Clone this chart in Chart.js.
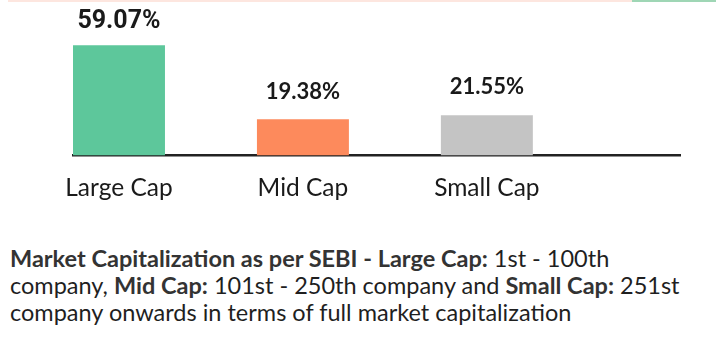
<!DOCTYPE html>
<html>
<head>
<meta charset="utf-8">
<script src="https://cdn.jsdelivr.net/npm/chart.js@4/dist/chart.umd.min.js"></script>
<style>
  html, body { margin: 0; padding: 0; background: #fff; }
  body { width: 716px; height: 342px; position: relative; overflow: hidden; }
  #wrap { position: absolute; left: 0; top: 0; width: 716px; height: 234px; }
  .stripe { position: absolute; top: 0; height: 2px; }
  #caption { position: absolute; left: 10px; top: 245px; width: 706px; white-space: nowrap;
    font-family: Lato, "Open Sans", sans-serif; font-size: 23.5px; line-height: 27px; color: #1f1f1f; }
  #caption b { font-weight: 700; color: #333; }
</style>
</head>
<body>
<div class="stripe" style="left:8px;width:624px;background:#fde6df;"></div>
<div class="stripe" style="left:632px;width:84px;background:#9fd6b5;"></div>
<div id="wrap"><canvas id="c" width="716" height="234"></canvas></div>
<div id="caption"><b>Market Capitalization as per SEBI - Large Cap:</b> 1st - 100th<br>company, <b>Mid Cap:</b> 101st - 250th company and <b>Small Cap:</b> 251st<br>company onwards in terms of full market capitalization</div>
<script>
const categories = ['Large Cap', 'Mid Cap', 'Small Cap'];
const shares = [59.07, 19.38, 21.55];
const valueLabels = ['59.07%', '19.38%', '21.55%'];
const barColors = ['#5dc79b', '#fd8a5c', '#c4c4c4'];
const labelFonts = ['bold 25px Roboto', 'bold 22px Lato', 'bold 22px Lato'];
const labelGaps = [17, 20, 21];

const valueLabelPlugin = {
  id: 'valueLabels',
  afterDatasetsDraw(chart) {
    const ctx = chart.ctx;
    const meta = chart.getDatasetMeta(0);
    ctx.save();
    ctx.fillStyle = '#1a1a1a';
    ctx.textAlign = 'center';
    ctx.textBaseline = 'alphabetic';
    meta.data.forEach((bar, i) => {
      ctx.font = labelFonts[i];
      ctx.fillText(valueLabels[i], bar.x, bar.y - labelGaps[i]);
    });
    ctx.restore();
  }
};

new Chart(document.getElementById('c'), {
  type: 'bar',
  data: {
    datasets: [{
      data: shares.map((v, i) => ({ x: i, y: v })),
      backgroundColor: barColors,
      borderWidth: 0,
      barPercentage: 0.5,
      categoryPercentage: 1
    }]
  },
  options: {
    responsive: false,
    animation: false,
    layout: { padding: { left: 73, right: 36, top: 6, bottom: 13 } },
    plugins: { legend: { display: false }, tooltip: { enabled: false } },
    scales: {
      x: {
        type: 'linear',
        offset: false,
        min: -0.25,
        max: 3.05,
        afterBuildTicks(scale) { scale.ticks = categories.map((_, i) => ({ value: i })); },
        grid: { display: false, drawTicks: false },
        border: { display: true, color: '#222', width: 2.5 },
        ticks: {
          padding: 18,
          color: '#1a1a1a',
          font: { family: 'Lato', size: 24.5 },
          callback: (v) => categories[v] ?? '',
          maxRotation: 0,
          autoSkip: false
        }
      },
      y: {
        display: false,
        min: 0,
        max: 80
      }
    }
  },
  plugins: [valueLabelPlugin]
});
</script>
</body>
</html>
